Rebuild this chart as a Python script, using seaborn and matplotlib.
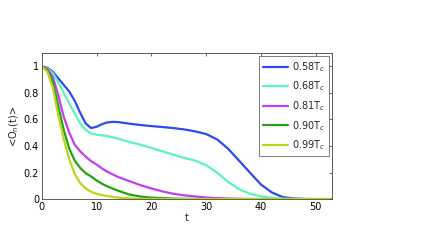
import pandas as pd
import seaborn as sns
import matplotlib.pyplot as plt

# время
t = [0, 1, 2, 3, 4, 5, 6, 7, 8, 9, 10, 11, 12, 13, 14, 16, 18, 20, 22, 24,
     26, 28, 30, 32, 34, 36, 38, 40, 42, 44, 46, 48, 50, 53]

o_058 = [1, 0.99, 0.96, 0.91, 0.86, 0.81, 0.74, 0.65, 0.57, 0.535, 0.545, 0.565,
         0.578, 0.582, 0.58, 0.568, 0.558, 0.55, 0.543, 0.535, 0.525, 0.51, 0.49,
         0.45, 0.38, 0.29, 0.2, 0.11, 0.05, 0.015, 0.004, 0.001, 0, 0]
o_068 = [1, 0.985, 0.95, 0.88, 0.8, 0.72, 0.645, 0.57, 0.52, 0.495, 0.485, 0.48,
         0.475, 0.465, 0.455, 0.43, 0.41, 0.385, 0.36, 0.335, 0.31, 0.29, 0.255,
         0.2, 0.13, 0.075, 0.04, 0.02, 0.008, 0.003, 0.001, 0, 0, 0]
o_081 = [1, 0.98, 0.92, 0.78, 0.62, 0.5, 0.41, 0.36, 0.32, 0.285, 0.26, 0.23,
         0.205, 0.185, 0.165, 0.135, 0.105, 0.08, 0.058, 0.04, 0.028, 0.02, 0.012,
         0.007, 0.004, 0.002, 0.001, 0, 0, 0, 0, 0, 0, 0]
o_090 = [1, 0.97, 0.88, 0.7, 0.52, 0.38, 0.29, 0.235, 0.195, 0.17, 0.14, 0.115,
         0.095, 0.078, 0.062, 0.034, 0.019, 0.011, 0.007, 0.004, 0.002, 0.001, 0,
         0, 0, 0, 0, 0, 0, 0, 0, 0, 0, 0]
o_099 = [1, 0.96, 0.84, 0.63, 0.45, 0.3, 0.19, 0.12, 0.08, 0.055, 0.04, 0.03,
         0.022, 0.016, 0.011, 0.005, 0.002, 0.001, 0, 0, 0, 0, 0, 0, 0, 0, 0, 0,
         0, 0, 0, 0, 0, 0]

labels = ['0.58T$_c$', '0.68T$_c$', '0.81T$_c$', '0.90T$_c$', '0.99T$_c$']
series = [o_058, o_068, o_081, o_090, o_099]
colors = ['#2a4bf2', '#5cf5b8', '#c23ef0', '#22a214', '#bcd617']

# длинный формат для seaborn
rows = []
for lab, vals in zip(labels, series):
    for ti, v in zip(t, vals):
        rows.append({'t': ti, 'O': v, 'T': lab})
df = pd.DataFrame(rows)

sns.set_style('white')
plt.rcParams['font.family'] = ['DejaVu Sans']

fig = plt.figure(figsize=(4.23, 2.47), dpi=100)
ax = fig.add_axes([0.099, 0.194, 0.686, 0.591])

sns.lineplot(data=df, x='t', y='O', hue='T', palette=colors, linewidth=1.6, ax=ax)

ax.set_xlim(0, 53)
ax.set_ylim(0, 1.1)
ax.set_xticks([0, 10, 20, 30, 40, 50])
ax.set_yticks([0, 0.2, 0.4, 0.6, 0.8, 1])
ax.set_yticklabels(['0', '0.2', '0.4', '0.6', '0.8', '1'])
ax.tick_params(direction='in', top=True, right=True, length=2.5, width=0.5,
               labelsize=7, pad=2, colors='#333333')
ax.tick_params(labelcolor='black')
for s in ax.spines.values():
    s.set_linewidth(0.6)
    s.set_color('#444444')

ax.set_xlabel('t', fontsize=7, labelpad=1)
ax.set_ylabel('<O$_n$(t)>', fontsize=7, labelpad=2)

leg = ax.legend(loc='upper right', fontsize=7, frameon=True, fancybox=False,
                borderaxespad=0.3, handlelength=2.6, labelspacing=0.6,
                borderpad=0.4, handletextpad=0.4)
leg.get_frame().set_edgecolor('#444444')
leg.get_frame().set_linewidth(0.6)

fig.savefig('out.png', dpi=100)
